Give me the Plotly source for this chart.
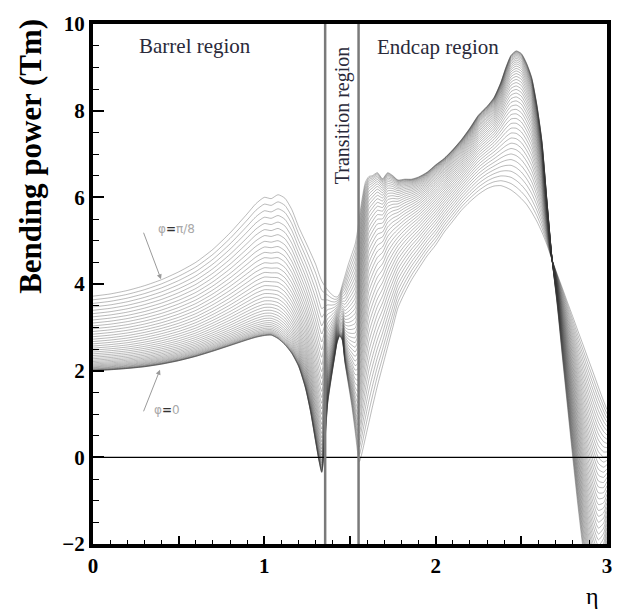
import numpy as np
import plotly.graph_objects as go

# Pseudorapidity sampling points
ETA = [0.00, 0.10, 0.20, 0.30, 0.40, 0.50, 0.60, 0.70, 0.80, 0.90, 0.95,
       1.00, 1.04, 1.08, 1.12, 1.16, 1.20, 1.24, 1.27, 1.30, 1.32, 1.335,
       1.35, 1.37, 1.39, 1.41, 1.425, 1.44, 1.455, 1.47, 1.49, 1.51, 1.53,
       1.545, 1.555, 1.57, 1.59, 1.61, 1.63, 1.66, 1.69, 1.72, 1.75, 1.78,
       1.82, 1.86, 1.90, 1.95, 2.00, 2.05, 2.10, 2.15, 2.20, 2.25, 2.30,
       2.34, 2.38, 2.41, 2.44, 2.47, 2.50, 2.53, 2.56, 2.59, 2.62, 2.65,
       2.68, 2.71, 2.74, 2.77, 2.80, 2.83, 2.86, 2.89, 2.92, 2.95, 2.98, 3.00]

# Bending power (Tm) at phi = 0
BP_PHI_0 = [2.00, 2.02, 2.05, 2.09, 2.15, 2.23, 2.33, 2.45, 2.58, 2.71, 2.77,
            2.81, 2.82, 2.74, 2.60, 2.40, 2.10, 1.60, 1.05, 0.35, -0.10, -0.35,
            0.15, 1.25, 1.80, 2.30, 2.65, 2.80, 2.70, 2.20, 1.70, 1.20, 0.60,
            0.10, -0.10, 0.10, 0.45, 0.80, 1.15, 1.65, 2.10, 2.55, 3.00, 3.45,
            3.80, 4.10, 4.35, 4.65, 4.90, 5.20, 5.45, 5.70, 5.90, 6.07, 6.20,
            6.26, 6.27, 6.23, 6.17, 6.08, 5.97, 5.84, 5.66, 5.45, 5.20, 4.90,
            4.55, 4.22, 3.90, 3.57, 3.25, 2.92, 2.60, 2.27, 1.95, 1.62, 1.30, 1.10]

# Bending power (Tm) at phi = pi/16
BP_PHI_PI16 = [2.43, 2.46, 2.50, 2.56, 2.64, 2.74, 2.87, 3.04, 3.23, 3.44, 3.54,
               3.61, 3.61, 3.57, 3.45, 3.23, 2.91, 2.45, 1.97, 1.38, 0.98, 0.76,
               1.30, 2.03, 2.39, 2.72, 2.97, 3.09, 3.08, 2.79, 2.66, 2.59, 2.54,
               2.68, 3.01, 3.61, 4.29, 4.78, 4.95, 5.15, 5.20, 5.42, 5.52, 5.58,
               5.69, 5.78, 5.88, 6.05, 6.25, 6.44, 6.66, 6.88, 7.13, 7.39, 7.58,
               7.75, 8.01, 8.25, 8.44, 8.49, 8.42, 8.21, 7.93, 7.42, 6.73, 5.63,
               4.55, 3.86, 3.10, 2.36, 1.63, 0.91, 0.25, -0.32, -0.78, -1.09, -1.05, -0.85]

# Bending power (Tm) at phi = pi/8
BP_PHI_PI8 = [3.72, 3.77, 3.85, 3.96, 4.10, 4.28, 4.50, 4.80, 5.18, 5.62, 5.85,
              6.00, 5.97, 6.06, 5.98, 5.72, 5.32, 4.98, 4.72, 4.45, 4.22, 4.07,
              3.97, 3.86, 3.77, 3.71, 3.70, 3.78, 3.98, 4.18, 4.45, 4.68, 4.92,
              5.25, 5.55, 5.95, 6.35, 6.48, 6.50, 6.57, 6.43, 6.57, 6.50, 6.40,
              6.42, 6.42, 6.47, 6.58, 6.75, 6.90, 7.10, 7.33, 7.60, 7.90, 8.10,
              8.30, 8.65, 9.00, 9.28, 9.38, 9.32, 9.10, 8.77, 8.15, 7.30, 5.90,
              4.55, 3.50, 2.30, 1.15, 0.00, -1.10, -2.10, -2.90, -3.50, -3.80, -3.40, -2.80]

N_PHI = 41            # number of phi values scanned between 0 and pi/8
TRANSITION_EDGES = [1.355, 1.55]

eta = np.array(ETA)
a = np.array(BP_PHI_0)
m = np.array(BP_PHI_PI16)
b = np.array(BP_PHI_PI8)

fig = go.Figure()

# One curve per phi step, quadratic in phi through the three reference curves
for k in range(N_PHI):
    t = k / (N_PHI - 1)
    y = a * (1 - t) * (1 - 2 * t) + m * 4 * t * (1 - t) + b * t * (2 * t - 1)
    fig.add_trace(go.Scatter(
        x=eta, y=y, mode="lines",
        line=dict(color="rgba(50,50,50,0.45)", width=0.75, shape="spline", smoothing=0.6),
        hoverinfo="skip", showlegend=False,
    ))

serif = "Liberation Serif"

shapes = [
    dict(type="line", xref="x", yref="y", x0=0, x1=3, y0=0, y1=0,
         line=dict(color="black", width=1.2), layer="above"),
]
for xe in TRANSITION_EDGES:
    shapes.append(dict(type="line", xref="x", yref="y", x0=xe, x1=xe, y0=-2, y1=10,
                       line=dict(color="#7a7a7a", width=2.5), layer="above"))

annotations = [
    dict(x=0.595, y=9.5, xref="x", yref="y", text="Barrel region", showarrow=False,
         font=dict(family=serif, size=21, color="#2a2a3a")),
    dict(x=2.015, y=9.48, xref="x", yref="y", text="Endcap region", showarrow=False,
         font=dict(family=serif, size=21, color="#2a2a3a")),
    dict(x=1.455, y=7.9, xref="x", yref="y", text="Transition region", showarrow=False,
         textangle=-90, font=dict(family=serif, size=20, color="#2a2a3a")),
    # phi labels with arrows to the limiting curves
    dict(x=0.487, y=5.28, xref="x", yref="y", showarrow=False,
         text="<span style='color:#a8a8a8'>φ</span><b>=</b><span style='color:#a8a8a8'>π/8</span>",
         font=dict(family="DejaVu Sans", size=12, color="#333")),
    dict(x=0.432, y=1.09, xref="x", yref="y", showarrow=False,
         text="<span style='color:#a8a8a8'>φ</span><b>=</b><span style='color:#a8a8a8'>0</span>",
         font=dict(family="DejaVu Sans", size=12, color="#333")),
    dict(x=0.397, y=4.11, xref="x", yref="y", text="", showarrow=True,
         ax=-18, ay=-48, arrowhead=2, arrowsize=1, arrowwidth=1, arrowcolor="#9a9a9a"),
    dict(x=0.391, y=2.02, xref="x", yref="y", text="", showarrow=True,
         ax=-17, ay=43, arrowhead=2, arrowsize=1, arrowwidth=1, arrowcolor="#9a9a9a"),
    # axis titles
    dict(x=-0.123, y=0.746, xref="paper", yref="paper", xanchor="center", yanchor="middle",
         text="<b>Bending power (Tm)</b>", showarrow=False, textangle=-90,
         font=dict(family=serif, size=31, color="black")),
    dict(x=0.972, y=-0.100, xref="paper", yref="paper", xanchor="center", yanchor="middle",
         text="η", showarrow=False, font=dict(family=serif, size=24, color="black")),
]

tickfont = dict(family=serif, size=21, color="black", weight="bold")

fig.update_layout(
    width=633, height=614,
    margin=dict(l=93, r=26, t=16, b=70),
    paper_bgcolor="white", plot_bgcolor="white",
    shapes=shapes, annotations=annotations,
    xaxis=dict(
        range=[0, 3], tickvals=[0, 0.5, 1, 1.5, 2, 2.5, 3],
        ticktext=["0", "", "1", "", "2", "", "3"],
        ticks="inside", ticklen=8, tickwidth=1.5, tickcolor="black",
        minor=dict(dtick=0.1, ticks="inside", ticklen=4, tickwidth=1, tickcolor="black"),
        showline=True, linewidth=4, linecolor="black", mirror=True,
        showgrid=False, zeroline=False, tickfont=tickfont,
    ),
    yaxis=dict(
        range=[-2, 10], tickvals=[-2, 0, 2, 4, 6, 8, 10],
        ticks="inside", ticklen=11, tickwidth=1.5, tickcolor="black",
        minor=dict(dtick=0.5, ticks="inside", ticklen=6, tickwidth=1, tickcolor="black"),
        showline=True, linewidth=4, linecolor="black", mirror=True,
        showgrid=False, zeroline=False, tickfont=tickfont,
    ),
)

fig.write_html("out.html")
